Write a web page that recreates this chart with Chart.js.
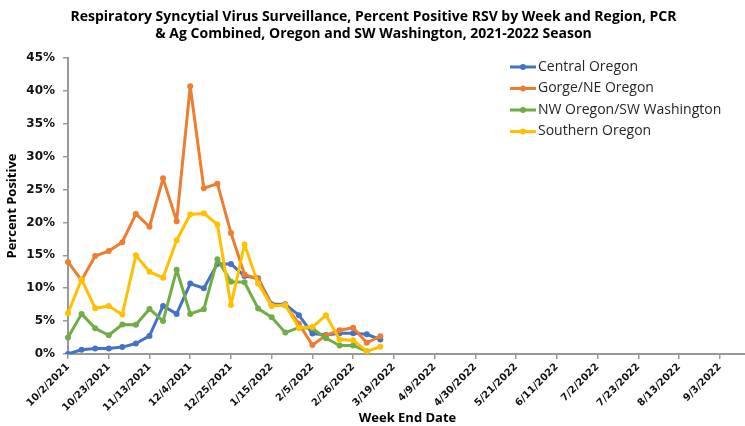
<!DOCTYPE html>
<html>
<head>
<meta charset="utf-8">
<title>RSV Surveillance 2021-2022</title>
<script src="https://cdn.jsdelivr.net/npm/chart.js@4"></script>
<style>
    html, body { margin: 0; padding: 0; background: #fff; overflow: hidden; }
    #wrap { width: 752px; height: 426px; }
</style>
</head>
<body>
<div id="wrap"><canvas id="rsv-chart" width="752" height="426"></canvas></div>
<script>
// Week end dates, 2021-2022 season
const weekEndDates = [
    '10/2/2021', '10/9/2021', '10/16/2021', '10/23/2021', '10/30/2021', '11/6/2021',
    '11/13/2021', '11/20/2021', '11/27/2021', '12/4/2021', '12/11/2021', '12/18/2021',
    '12/25/2021', '1/1/2022', '1/8/2022', '1/15/2022', '1/22/2022', '1/29/2022',
    '2/5/2022', '2/12/2022', '2/19/2022', '2/26/2022', '3/5/2022', '3/12/2022',
    '3/19/2022', '3/26/2022', '4/2/2022', '4/9/2022', '4/16/2022', '4/23/2022',
    '4/30/2022', '5/7/2022', '5/14/2022', '5/21/2022', '5/28/2022', '6/4/2022',
    '6/11/2022', '6/18/2022', '6/25/2022', '7/2/2022', '7/9/2022', '7/16/2022',
    '7/23/2022', '7/30/2022', '8/6/2022', '8/13/2022', '8/20/2022', '8/27/2022',
    '9/3/2022', '9/10/2022', '9/17/2022'
];

// Percent positive by region
const centralOregon = [0, 0.65, 0.85, 0.85, 1.05, 1.6, 2.75, 7.3, 6.1, 10.7, 10.0, 13.7,
    13.7, 11.85, 11.5, 7.55, 7.55, 5.9, 3.1, 2.9, 3.15, 3.15, 3.0, 2.2];
const gorgeNeOregon = [14.0, 11.2, 14.9, 15.65, 17.0, 21.3, 19.35, 26.7, 20.2, 40.7, 25.2, 25.9,
    18.4, 12.1, 11.35, 7.4, 7.4, 4.6, 1.35, 2.85, 3.6, 4.0, 1.7, 2.7];
const nwOregonSwWashington = [2.5, 6.1, 3.9, 2.85, 4.5, 4.45, 6.85, 5.0, 12.8, 6.1, 6.8, 14.4,
    11.0, 10.9, 6.9, 5.6, 3.25, 4.0, 3.9, 2.4, 1.3, 1.3, 0.4];
const southernOregon = [6.2, 11.35, 6.95, 7.3, 6.0, 15.0, 12.5, 11.6, 17.3, 21.2, 21.4, 19.7,
    7.45, 16.65, 10.7, 7.3, 7.45, 4.0, 4.1, 5.9, 2.2, 2.1, 0.4, 1.1];

const seriesNames = ['Central Oregon', 'Gorge/NE Oregon', 'NW Oregon/SW Washington', 'Southern Oregon'];
const seriesColors = ['#4472C4', '#ED7D31', '#70AD47', '#FFC000'];

const axisTitleFont = { family: 'Open Sans', size: 13, weight: 'bold' };

// Legend drawn inside the plot, top right, like the Excel original
const insideLegend = {
    id: 'insideLegend',
    afterDraw(chart) {
        const ctx = chart.ctx;
        ctx.save();
        ctx.font = '14px "Open Sans"';
        ctx.textBaseline = 'middle';
        seriesNames.forEach((name, i) => {
            const y = 67 + i * 21.5;
            ctx.strokeStyle = seriesColors[i];
            ctx.lineWidth = 3;
            ctx.beginPath();
            ctx.moveTo(510, y);
            ctx.lineTo(536, y);
            ctx.stroke();
            ctx.fillStyle = seriesColors[i];
            ctx.beginPath();
            ctx.arc(523, y, 3, 0, Math.PI * 2);
            ctx.fill();
            ctx.fillStyle = '#262626';
            ctx.fillText(name, 538, y);
        });
        ctx.restore();
    }
};

function makeDataset(i, data, order) {
    return {
        label: seriesNames[i],
        data: data,
        borderColor: seriesColors[i],
        backgroundColor: seriesColors[i],
        borderWidth: 3,
        borderJoinStyle: 'round',
        borderCapStyle: 'round',
        pointRadius: 3,
        pointBorderWidth: 0,
        pointBackgroundColor: seriesColors[i],
        tension: 0,
        order: order
    };
}

new Chart(document.getElementById('rsv-chart'), {
    type: 'line',
    data: {
        labels: weekEndDates,
        datasets: [
            makeDataset(0, centralOregon, 3),
            makeDataset(1, gorgeNeOregon, 2),
            makeDataset(2, nwOregonSwWashington, 1),
            makeDataset(3, southernOregon, 0)
        ]
    },
    options: {
        responsive: false,
        animation: false,
        layout: { padding: { left: 0, right: 5, top: 0, bottom: 0 } },
        plugins: {
            legend: { display: false },
            tooltip: { enabled: false },
            title: {
                display: true,
                text: [
                    'Respiratory Syncytial Virus Surveillance, Percent Positive RSV by Week and Region, PCR',
                    '& Ag Combined, Oregon and SW Washington, 2021-2022 Season'
                ],
                color: '#000',
                font: { family: 'Open Sans', size: 14, weight: 'bold', lineHeight: 1.2 },
                padding: { top: 8.6, bottom: 15.8 }
            }
        },
        scales: {
            x: {
                offset: false,
                afterFit: (scale) => { scale.height = 72; },
                border: { display: true, color: '#999', width: 2 },
                grid: { display: true, drawOnChartArea: false, drawTicks: true, tickLength: 5, color: '#999', lineWidth: 1.5 },
                ticks: {
                    autoSkip: false,
                    maxRotation: 45,
                    minRotation: 45,
                    padding: 2,
                    color: '#111',
                    font: { family: 'DejaVu Sans', size: 10, weight: 'bold' },
                    callback: function (value, index) {
                        return index % 3 === 0 ? this.getLabelForValue(value) : null;
                    }
                },
                title: {
                    display: true,
                    text: 'Week End Date',
                    color: '#000',
                    font: axisTitleFont,
                    padding: { top: 0, bottom: 0 }
                }
            },
            y: {
                min: 0,
                max: 45,
                afterFit: (scale) => { scale.width = 68; },
                border: { display: true, color: '#999', width: 2 },
                grid: { display: true, drawOnChartArea: false, drawTicks: true, tickLength: 5, color: '#999', lineWidth: 1.5 },
                ticks: {
                    stepSize: 5,
                    padding: 8,
                    color: '#111',
                    font: { family: 'DejaVu Sans', size: 12, weight: 'bold' },
                    callback: (value) => value + '%'
                },
                title: {
                    display: true,
                    text: 'Percent Positive',
                    color: '#000',
                    font: axisTitleFont,
                    padding: { top: 4, bottom: 0 }
                }
            }
        }
    },
    plugins: [insideLegend]
});
</script>
</body>
</html>
